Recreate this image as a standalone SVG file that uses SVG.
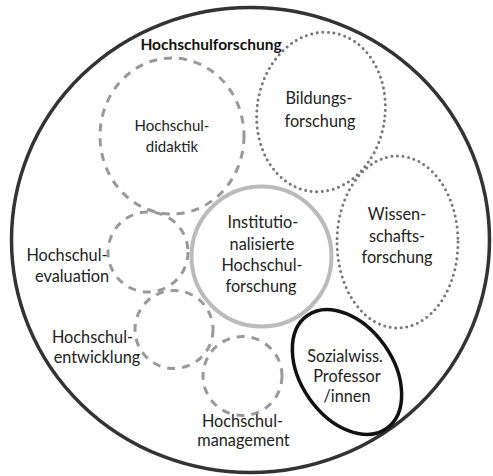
<svg xmlns="http://www.w3.org/2000/svg" width="493" height="476" viewBox="0 0 493 476">
<style>
.lbl{font-family:Lato,"Liberation Sans",Arial,sans-serif;font-size:16.3px;fill:#222;text-anchor:middle}
.title{font-family:Lato,"Liberation Sans",Arial,sans-serif;font-size:15.5px;font-weight:bold;fill:#111;text-anchor:middle}
.dash{fill:none;stroke:#999;stroke-width:3;stroke-dasharray:8 7}
.dot{fill:none;stroke:#777;stroke-width:3;stroke-dasharray:0 5.6;stroke-linecap:round}
</style>
<rect width="493" height="476" fill="#fff"/>
<g id="hochschulforschung">
  <ellipse cx="250.5" cy="240" rx="239" ry="232.5" fill="none" stroke="#333" stroke-width="3.5"/>
  <text class="title" x="211" y="50">Hochschulforschung</text>
</g>
<g id="didaktik">
  <ellipse class="dash" cx="172" cy="136" rx="72" ry="78"/>
  <text class="lbl" x="172" y="131" style="font-size:15px">Hochschul-</text>
  <text class="lbl" x="172" y="152" style="font-size:15px">didaktik</text>
</g>
<g id="bildungsforschung">
  <ellipse class="dot" cx="321" cy="112" rx="64" ry="80" transform="rotate(8 321 112)"/>
  <text class="lbl" x="319" y="104">Bildungs-</text>
  <text class="lbl" x="320" y="127">forschung</text>
</g>
<g id="wissenschaftsforschung">
  <ellipse class="dot" cx="397.5" cy="242" rx="60.5" ry="86"/>
  <text class="lbl" x="397" y="220">Wissen-</text>
  <text class="lbl" x="397" y="242">schafts-</text>
  <text class="lbl" x="397" y="263">forschung</text>
</g>
<g id="evaluation">
  <circle class="dash" cx="148" cy="252" r="40"/>
  <text class="lbl" x="67" y="261">Hochschul-</text>
  <text class="lbl" x="72" y="282">evaluation</text>
</g>
<g id="entwicklung">
  <circle class="dash" cx="174" cy="329.5" r="39"/>
  <text class="lbl" x="92.5" y="343">Hochschul-</text>
  <text class="lbl" x="97" y="363">entwicklung</text>
</g>
<g id="management">
  <circle class="dash" cx="242.5" cy="376" r="39.5"/>
  <text class="lbl" x="242.5" y="427">Hochschul-</text>
  <text class="lbl" x="243.5" y="446">management</text>
</g>
<g id="institutionalisierte">
  <circle cx="261.5" cy="256.5" r="70" fill="none" stroke="#bbb" stroke-width="4"/>
  <text class="lbl" x="263" y="228">Institutio-</text>
  <text class="lbl" x="262" y="250">nalisierte</text>
  <text class="lbl" x="262" y="271">Hochschul-</text>
  <text class="lbl" x="261" y="292">forschung</text>
</g>
<g id="sozialwiss">
  <ellipse cx="347" cy="372" rx="46" ry="69" transform="rotate(-35 347 372)" fill="none" stroke="#111" stroke-width="3.5"/>
  <text class="lbl" x="345" y="362">Sozialwiss.</text>
  <text class="lbl" x="347" y="382">Professor</text>
  <text class="lbl" x="347" y="402">/innen</text>
</g>
<g id="connectors"></g>
</svg>
